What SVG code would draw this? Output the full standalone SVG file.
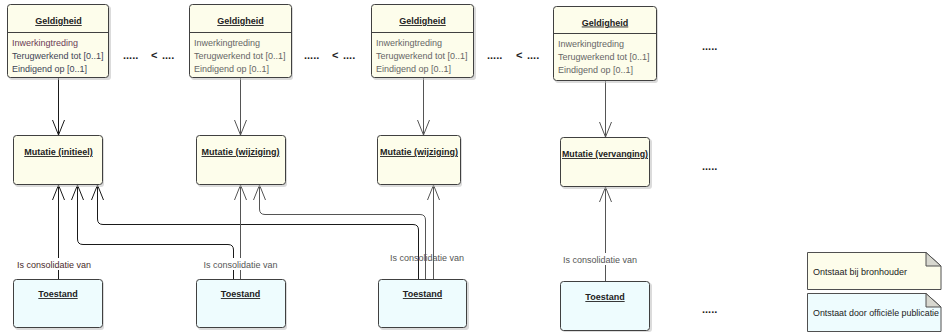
<svg xmlns="http://www.w3.org/2000/svg" width="942" height="332" viewBox="0 0 942 332">
  <defs>
    <style>
      text { font-family: "Liberation Sans", Arial, sans-serif; font-size: 9px; }
      .box { stroke: #404040; stroke-width: 1; }
      .cls { fill: #fdfdeb; }
      .st { fill: #eefcfe; }
      .shadow { fill: #bdbdbd; opacity: 0.55; }
      .title { font-weight: bold; fill: #222; text-anchor: middle; text-decoration: underline; }
      .attr { fill: #666; }
      .attr1 { fill: #3d4456; }
      .lbl { fill: #555; text-anchor: middle; }
      .lbl1 { fill: #4a2a2a; text-anchor: middle; }
      .gap { fill: #ffffff; }
      .dots { font-size: 11px; font-weight: bold; fill: #222; }
      .c1 { fill: none; stroke: #1a1a1a; stroke-width: 1; }
      .c2 { fill: none; stroke: #555; stroke-width: 1; }
      .note { stroke: #505050; stroke-width: 1; }
      .fold { fill: #d8d8d0; stroke: #505050; stroke-width: 1; }
      .ntxt { fill: #222; }
    </style>
    <marker id="arr1" markerUnits="userSpaceOnUse" markerWidth="20" markerHeight="20" refX="0" refY="0" orient="auto" overflow="visible">
      <path d="M -15 -6 L 0 0 L -15 6" fill="none" stroke="#1a1a1a" stroke-width="1"/>
    </marker>
    <marker id="arr2" markerUnits="userSpaceOnUse" markerWidth="20" markerHeight="20" refX="0" refY="0" orient="auto" overflow="visible">
      <path d="M -15 -6 L 0 0 L -15 6" fill="none" stroke="#555" stroke-width="1"/>
    </marker>
  </defs>

  <!-- connectors -->
  <g id="connectors">
    <!-- Geldigheid to Mutatie -->
    <path class="c1" d="M58.5 78 L58.5 135" marker-end="url(#arr1)"/>
    <path class="c2" d="M240.5 78 L240.5 135" marker-end="url(#arr2)"/>
    <path class="c2" d="M423.5 78 L423.5 135" marker-end="url(#arr2)"/>
    <path class="c2" d="M605.5 81 L605.5 137" marker-end="url(#arr2)"/>

    <!-- Toestand to Mutatie (Is consolidatie van) -->
    <path class="c1" d="M58.5 279 L58.5 185" marker-end="url(#arr1)"/>
    <path class="c1" d="M233.5 279 L233.5 250 Q233.5 244.5 228 244.5 L83 244.5 Q77.5 244.5 77.5 239 L77.5 185" marker-end="url(#arr1)"/>
    <path class="c1" d="M418.5 279 L418.5 230 Q418.5 224.5 413 224.5 L103 224.5 Q97.5 224.5 97.5 219 L97.5 185" marker-end="url(#arr1)"/>
    <path class="c2" d="M240.5 279 L240.5 185" marker-end="url(#arr2)"/>
    <path class="c2" d="M425.5 279 L425.5 220 Q425.5 214.5 420 214.5 L265 214.5 Q259.5 214.5 259.5 209 L259.5 185" marker-end="url(#arr2)"/>
    <path class="c2" d="M433.5 279 L433.5 185" marker-end="url(#arr2)"/>
    <path class="c2" d="M605.5 281 L605.5 187" marker-end="url(#arr2)"/>

    <!-- connector labels -->
    <rect class="gap" x="16" y="258" width="77" height="12"/>
    <text class="lbl1" x="54" y="268">Is consolidatie van</text>
    <rect class="gap" x="203" y="258" width="75" height="12"/>
    <text class="lbl" x="240.5" y="268">Is consolidatie van</text>
    <text class="lbl" x="427" y="260.5">Is consolidatie van</text>
    <rect class="gap" x="562" y="253" width="76" height="12"/>
    <text class="lbl" x="600" y="262.5">Is consolidatie van</text>
  </g>

  <!-- Geldigheid classes -->
  <g id="geldigheid1">
    <rect class="shadow" x="9" y="6" width="102" height="74" rx="3"/>
    <rect class="box cls" x="7.5" y="4.5" width="101" height="73" rx="3"/>
    <line class="box" x1="7.5" y1="32.5" x2="108.5" y2="32.5"/>
    <text class="title" x="58.5" y="24">Geldigheid</text>
    <text x="12" y="45.5" fill="#6b3b55">Inwerkingtreding</text>
    <text class="attr1" x="12" y="58.5">Terugwerkend tot [0..1]</text>
    <text class="attr1" x="12" y="71.5">Eindigend op [0..1]</text>
  </g>
  <g id="geldigheid2">
    <rect class="shadow" x="191" y="6" width="102" height="74" rx="3"/>
    <rect class="box cls" x="189.5" y="4.5" width="102" height="73" rx="3"/>
    <line class="box" x1="189.5" y1="32.5" x2="291.5" y2="32.5"/>
    <text class="title" x="240.5" y="24">Geldigheid</text>
    <text class="attr" x="194" y="45.5">Inwerkingtreding</text>
    <text class="attr" x="194" y="58.5">Terugwerkend tot [0..1]</text>
    <text class="attr" x="194" y="71.5">Eindigend op [0..1]</text>
  </g>
  <g id="geldigheid3">
    <rect class="shadow" x="373" y="6" width="103" height="74" rx="3"/>
    <rect class="box cls" x="371.5" y="4.5" width="102" height="73" rx="3"/>
    <line class="box" x1="371.5" y1="32.5" x2="473.5" y2="32.5"/>
    <text class="title" x="422.5" y="24">Geldigheid</text>
    <text class="attr" x="376" y="45.5">Inwerkingtreding</text>
    <text class="attr" x="376" y="58.5">Terugwerkend tot [0..1]</text>
    <text class="attr" x="376" y="71.5">Eindigend op [0..1]</text>
  </g>
  <g id="geldigheid4">
    <rect class="shadow" x="555" y="8" width="103" height="75" rx="3"/>
    <rect class="box cls" x="553.5" y="6.5" width="103" height="74" rx="3"/>
    <line class="box" x1="553.5" y1="33.5" x2="656.5" y2="33.5"/>
    <text class="title" x="605" y="25.5">Geldigheid</text>
    <text class="attr" x="558" y="47">Inwerkingtreding</text>
    <text class="attr" x="558" y="60">Terugwerkend tot [0..1]</text>
    <text class="attr" x="558" y="73">Eindigend op [0..1]</text>
  </g>

  <!-- Mutatie classes -->
  <g id="mutatie1">
    <rect class="shadow" x="15" y="137" width="89" height="50" rx="3"/>
    <rect class="box cls" x="13.5" y="135.5" width="89" height="49" rx="3"/>
    <text class="title" x="58.5" y="155">Mutatie (initieel)</text>
  </g>
  <g id="mutatie2">
    <rect class="shadow" x="198" y="137" width="89" height="50" rx="3"/>
    <rect class="box cls" x="196.5" y="135.5" width="89" height="49" rx="3"/>
    <text class="title" x="240.5" y="155">Mutatie (wijziging)</text>
  </g>
  <g id="mutatie3">
    <rect class="shadow" x="379" y="137" width="83" height="50" rx="3"/>
    <rect class="box cls" x="377.5" y="135.5" width="83" height="49" rx="3"/>
    <text class="title" x="419" y="155">Mutatie (wijziging)</text>
  </g>
  <g id="mutatie4">
    <rect class="shadow" x="562" y="139" width="90" height="50" rx="3"/>
    <rect class="box cls" x="560.5" y="137.5" width="89" height="49" rx="3"/>
    <text class="title" x="605" y="157" textLength="86" lengthAdjust="spacingAndGlyphs">Mutatie (vervanging)</text>
  </g>

  <!-- Toestand classes -->
  <g id="toestand1">
    <rect class="shadow" x="15" y="281" width="89" height="49" rx="3"/>
    <rect class="box st" x="13.5" y="279.5" width="89" height="48" rx="3"/>
    <text class="title" x="58" y="297">Toestand</text>
  </g>
  <g id="toestand2">
    <rect class="shadow" x="198" y="281" width="89" height="49" rx="3"/>
    <rect class="box st" x="196.5" y="279.5" width="89" height="48" rx="3"/>
    <text class="title" x="240.5" y="297">Toestand</text>
  </g>
  <g id="toestand3">
    <rect class="shadow" x="380" y="281" width="89" height="49" rx="3"/>
    <rect class="box st" x="378.5" y="279.5" width="88" height="48" rx="3"/>
    <text class="title" x="422.5" y="297">Toestand</text>
  </g>
  <g id="toestand4">
    <rect class="shadow" x="562" y="283" width="90" height="49" rx="3"/>
    <rect class="box st" x="560.5" y="281.5" width="89" height="49" rx="3"/>
    <text class="title" x="605" y="300">Toestand</text>
  </g>

  <!-- continuation marks -->
  <g id="sequence">
    <text class="dots" x="123" y="59">.....</text>
    <text class="dots" x="151" y="59">&lt;</text>
    <text class="dots" x="162" y="59">....</text>
    <text class="dots" x="304" y="59">.....</text>
    <text class="dots" x="332" y="59">&lt;</text>
    <text class="dots" x="343" y="59">....</text>
    <text class="dots" x="487" y="59">.....</text>
    <text class="dots" x="516" y="59">&lt;</text>
    <text class="dots" x="527" y="59">....</text>
    <text class="dots" x="702" y="50">.....</text>
    <text class="dots" x="702" y="170">.....</text>
    <text class="dots" x="702" y="313">.....</text>
  </g>

  <!-- legend notes -->
  <g id="note1">
    <path class="note cls" d="M807.5 252.5 L926 252.5 L941 266 L941 289.5 L807.5 289.5 Z"/>
    <path class="fold" d="M926 252.5 L926 266 L941 266 Z"/>
    <text class="ntxt" x="813" y="275">Ontstaat bij bronhouder</text>
  </g>
  <g id="note2">
    <path class="note st" d="M807.5 293.5 L926 293.5 L941 307 L941 331.5 L807.5 331.5 Z"/>
    <path class="fold" d="M926 293.5 L926 307 L941 307 Z" fill="#ccd8dc"/>
    <text class="ntxt" x="813" y="316" textLength="126" lengthAdjust="spacingAndGlyphs">Ontstaat door officiële publicatie</text>
  </g>
</svg>
